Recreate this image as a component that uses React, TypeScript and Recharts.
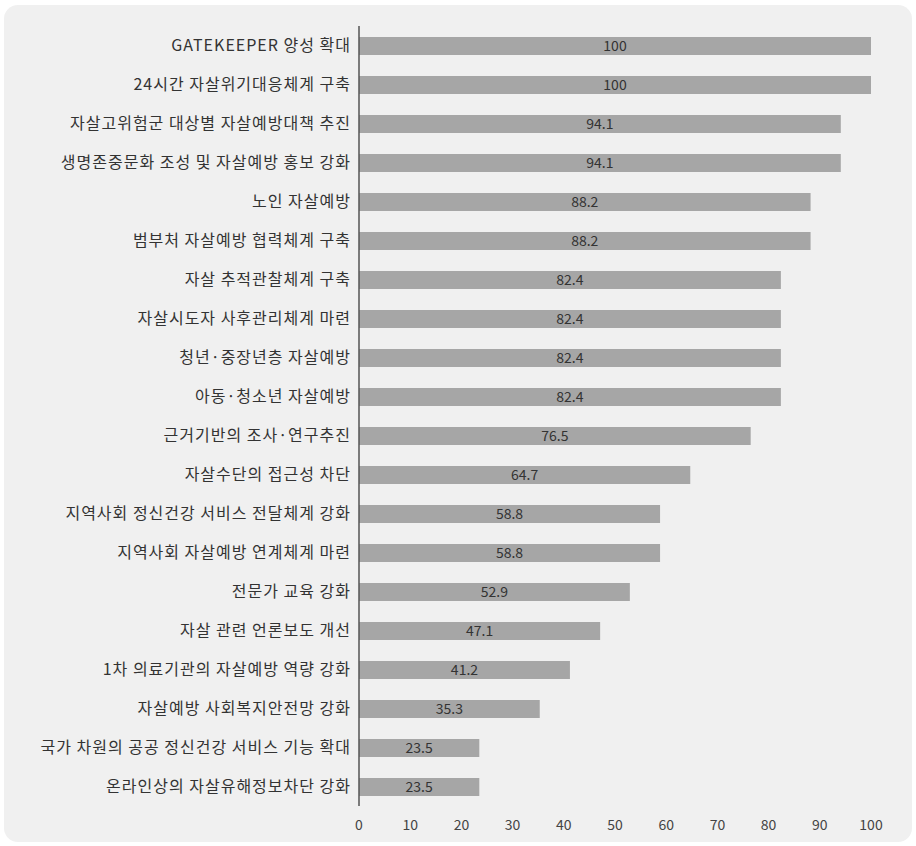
import { BarChart, Bar, XAxis, YAxis, LabelList } from "recharts";

const categories = [
  "GATEKEEPER 양성 확대",
  "24시간 자살위기대응체계 구축",
  "자살고위험군 대상별 자살예방대책 추진",
  "생명존중문화 조성 및 자살예방 홍보 강화",
  "노인 자살예방",
  "범부처 자살예방 협력체계 구축",
  "자살 추적관찰체계 구축",
  "자살시도자 사후관리체계 마련",
  "청년·중장년층 자살예방",
  "아동·청소년 자살예방",
  "근거기반의 조사·연구추진",
  "자살수단의 접근성 차단",
  "지역사회 정신건강 서비스 전달체계 강화",
  "지역사회 자살예방 연계체계 마련",
  "전문가 교육 강화",
  "자살 관련 언론보도 개선",
  "1차 의료기관의 자살예방 역량 강화",
  "자살예방 사회복지안전망 강화",
  "국가 차원의 공공 정신건강 서비스 기능 확대",
  "온라인상의 자살유해정보차단 강화",
];

const values = [
  100, 100, 94.1, 94.1, 88.2, 88.2, 82.4, 82.4, 82.4, 82.4,
  76.5, 64.7, 58.8, 58.8, 52.9, 47.1, 41.2, 35.3, 23.5, 23.5,
];

const xTicks = [0, 10, 20, 30, 40, 50, 60, 70, 80, 90, 100];

const data = categories.map((name, i) => ({ name, value: values[i] }));

const FONT = "'Noto Sans CJK KR', 'Noto Sans', sans-serif";

export default function App() {
  return (
    <div
      style={{
        position: "fixed",
        left: 0,
        top: 0,
        width: 916,
        height: 846,
        background: "#ffffff",
        fontFamily: FONT,
      }}
    >
      <div
        style={{
          position: "absolute",
          left: 4,
          top: 5,
          width: 908,
          height: 837,
          borderRadius: 14,
          background: "#f0f0f0",
        }}
      />
      <div style={{ position: "absolute", left: 0, top: 0 }}>
        <BarChart
          width={916}
          height={846}
          data={data}
          layout="vertical"
          margin={{ top: 26, right: 45, left: 0, bottom: 10 }}
        >
          <XAxis
            type="number"
            domain={[0, 100]}
            ticks={xTicks}
            axisLine={false}
            tickLine={false}
            height={30}
            tickMargin={8}
            tick={{ fontSize: 14, fill: "#444", fontFamily: FONT }}
          />
          <YAxis
            type="category"
            dataKey="name"
            width={359}
            axisLine={{ stroke: "#555", strokeWidth: 1.5 }}
            tickLine={false}
            interval={0}
            tick={{ fontSize: 16, fill: "#333", fontFamily: FONT, letterSpacing: 1 }}
          />
          <Bar dataKey="value" fill="#a6a6a6" barSize={18} isAnimationActive={false}>
            <LabelList
              dataKey="value"
              position="center"
              style={{ fontSize: 14, fill: "#333", fontFamily: FONT }}
            />
          </Bar>
        </BarChart>
      </div>
    </div>
  );
}
